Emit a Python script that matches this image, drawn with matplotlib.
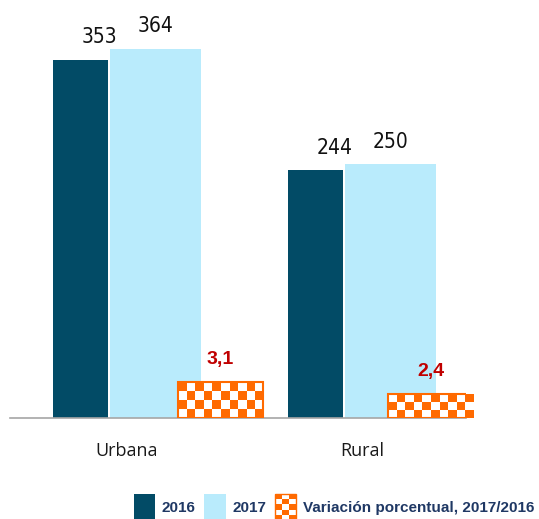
import numpy as np
import matplotlib
matplotlib.use("Agg")
import matplotlib.pyplot as plt
from matplotlib import font_manager
from matplotlib.patches import Rectangle, Patch
from matplotlib.colors import ListedColormap
from matplotlib.legend_handler import HandlerBase

# datos
categorias = ['Urbana', 'Rural']
valores_2016 = [353, 244]
valores_2017 = [364, 250]
variacion = [3.1, 2.4]
etiquetas_var = ['3,1', '2,4']
leyenda = ['2016', '2017', 'Variación porcentual, 2017/2016']

C_2016 = '#024B66'
C_2017 = '#B9EBFC'
C_VAR = '#FF6A00'
C_ROJO = '#C00000'
C_LEY = '#1F3864'

disponibles = {f.name for f in font_manager.fontManager.ttflist}
narrow = 'Liberation Sans Narrow' if 'Liberation Sans Narrow' in disponibles else 'DejaVu Sans'

W, H = 539, 519
fig = plt.figure(figsize=(W / 100, H / 100), dpi=100)
rect = [10 / W, (H - 418) / H, 456 / W, 418 / H]

ax = fig.add_axes(rect)
x = np.arange(len(categorias))
b1 = ax.bar(x - 0.198, valores_2016, width=0.234, color=C_2016, zorder=2)
b2 = ax.bar(x + 0.121, valores_2017, width=0.387, color=C_2017, zorder=2)
ax.set_xlim(-0.498, 1.443)
ax.set_ylim(0, 412)
for s in ['top', 'left', 'right']:
    ax.spines[s].set_visible(False)
ax.spines['bottom'].set_color('#A6A6A6')
ax.spines['bottom'].set_linewidth(1.2)
ax.set_yticks([])
ax.set_xticks(x)
ax.set_xticklabels(categorias, fontsize=13, family='Open Sans', color='#1a1a1a')
ax.tick_params(axis='x', length=0, pad=17)

for bars, dx in [(b1, 13.5), (b2, 0)]:
    for b in bars:
        ax.annotate(f'{b.get_height():.0f}', (b.get_x() + b.get_width() / 2, b.get_height()),
                    xytext=(dx, 9), textcoords='offset points', ha='center', va='bottom',
                    fontsize=15, family=narrow, fontstretch='condensed', color='#111111')

# eje secundario para la variación
ax2 = fig.add_axes(rect, frameon=False)
ax2.set_xlim(-1.002, 1.169)
ax2.set_ylim(1.055, 24.8)
ax2.set_xticks([])
ax2.set_yticks([])
b3 = ax2.bar(x, variacion, width=0.405, color=C_VAR, edgecolor=C_VAR, linewidth=1.2, zorder=2)

cmap = ListedColormap(['white', C_VAR])
for b in b3:
    x0, w = b.get_x(), b.get_width()
    y0, y1 = 1.055, b.get_height()
    p0 = ax2.transData.transform((x0, y0))
    p1 = ax2.transData.transform((x0 + w, y1))
    nx = max(1, int(round((p1[0] - p0[0]) / 8.5)))
    ny = max(1, int(round((p1[1] - p0[1]) / 8.5)))
    tablero = (np.indices((ny, nx)).sum(axis=0) % 2).astype(float)
    im = ax2.imshow(tablero, extent=(x0, x0 + w, y0, y1), cmap=cmap, aspect='auto',
                    interpolation='nearest', zorder=3, origin='lower')
    im.set_clip_path(b)
    ax2.add_patch(Rectangle((x0, y0), w, y1 - y0, fill=False, edgecolor=C_VAR, linewidth=1.5, zorder=4))

for b, t in zip(b3, etiquetas_var):
    ax2.annotate(t, (b.get_x() + b.get_width() / 2, b.get_height()), xytext=(0, 10),
                 textcoords='offset points', ha='center', va='bottom',
                 fontsize=14, fontweight='bold', family='Liberation Sans', color=C_ROJO)
ax2.set_xlim(-1.002, 1.169)
ax2.set_ylim(1.055, 24.8)


class Tablero(HandlerBase):
    def create_artists(self, legend, orig_handle, xdescent, ydescent, width, height, fontsize, trans):
        arts = [Rectangle((-xdescent, -ydescent), width, height, facecolor='white',
                          edgecolor=C_VAR, linewidth=1, transform=trans)]
        nx, ny = 3, 5
        cw, ch = width / nx, height / ny
        for i in range(nx):
            for j in range(ny):
                if (i + j) % 2 == 0:
                    arts.append(Rectangle((-xdescent + i * cw, -ydescent + j * ch), cw, ch,
                                          facecolor=C_VAR, edgecolor='none', transform=trans))
        return arts


h1 = Patch(facecolor=C_2016)
h2 = Patch(facecolor=C_2017)
h3 = Patch(facecolor=C_VAR)
leg = fig.legend([h1, h2, h3], leyenda, loc='center', bbox_to_anchor=(334 / W, (H - 507) / H),
                 ncol=3, frameon=False, handlelength=1.4, handleheight=2.2, handletextpad=0.45,
                 columnspacing=0.55, handler_map={h3: Tablero()}, borderpad=0.1,
                 prop={'family': 'Liberation Sans', 'weight': 'bold', 'size': 11})
for t in leg.get_texts():
    t.set_color(C_LEY)

fig.savefig('out.png', dpi=100)
